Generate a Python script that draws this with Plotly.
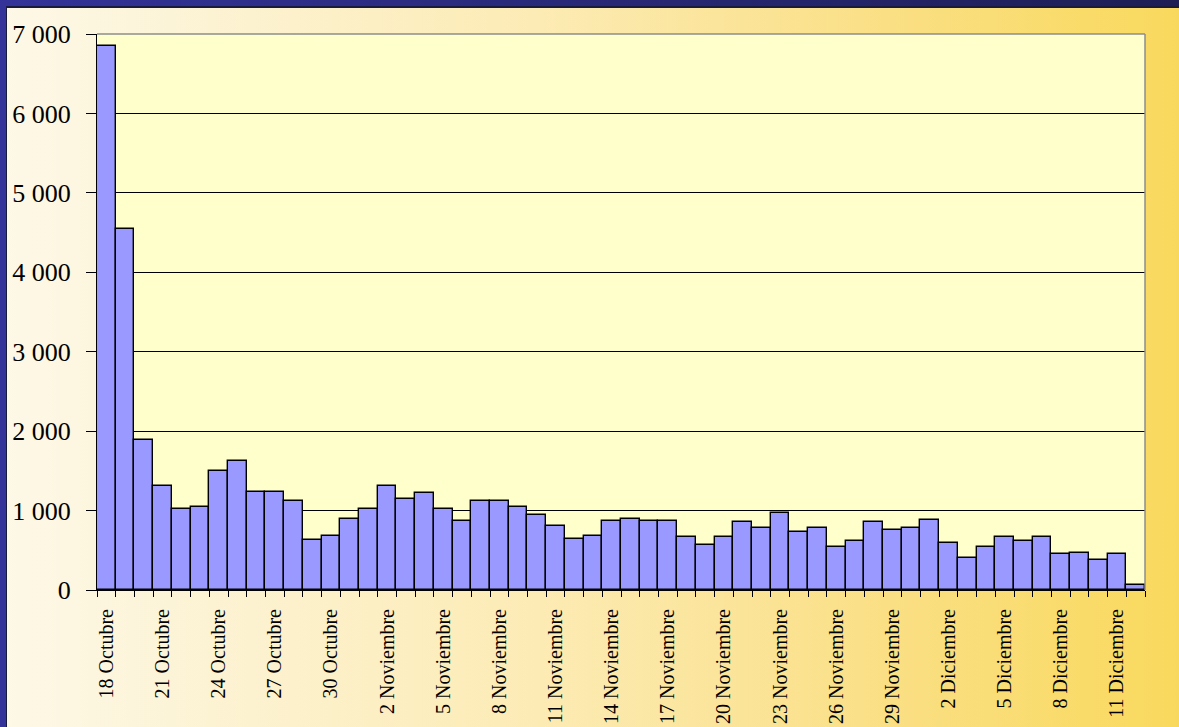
import base64
import plotly.graph_objects as go

# ---- data ----
dates = (
    [f"{d} Octubre" for d in range(18, 32)]
    + [f"{d} Noviembre" for d in range(1, 31)]
    + [f"{d} Diciembre" for d in range(1, 13)]
)
values = [
    6850, 4540, 1890, 1310, 1025, 1045, 1500, 1625, 1240, 1240,
    1120, 635, 685, 900, 1025, 1310, 1145, 1215, 1025, 875,
    1120, 1120, 1045, 950, 805, 640, 685, 875, 900, 875,
    875, 665, 565, 665, 850, 785, 975, 735, 785, 545,
    615, 850, 760, 785, 880, 590, 400, 545, 665, 615,
    665, 450, 470, 375, 450, 60,
]
label_step = 3
y_ticks = [0, 1000, 2000, 3000, 4000, 5000, 6000, 7000]

# ---- layout geometry ----
W, H = 1179, 727
ML, MR, MT, MB = 97, 34, 34, 137
PW, PH = W - ML - MR, H - MT - MB

# ---- background (slide frame + gradient) as svg image ----
svg = f"""<svg xmlns='http://www.w3.org/2000/svg' width='{W}' height='{H}' viewBox='0 0 {W} {H}' preserveAspectRatio='none'>
<defs>
<linearGradient id='g' x1='0' y1='0' x2='1' y2='0'>
<stop offset='0' stop-color='#FDF8E7'/>
<stop offset='0.45' stop-color='#FCEBB4'/>
<stop offset='0.75' stop-color='#FADF84'/>
<stop offset='1' stop-color='#F9D95C'/>
</linearGradient>
<linearGradient id='b' x1='0' y1='0' x2='1' y2='0'>
<stop offset='0' stop-color='#333399'/>
<stop offset='1' stop-color='#1E1E55'/>
</linearGradient>
</defs>
<rect x='0' y='0' width='{W}' height='{H}' fill='#333399'/>
<rect x='0' y='0' width='{W}' height='8' fill='url(#b)'/>
<rect x='6' y='6' width='{W}' height='{H}' fill='#1A1A3A'/>
<rect x='7' y='8' width='{W}' height='{H}' fill='url(#g)'/>
</svg>"""
bg_src = "data:image/svg+xml;base64," + base64.b64encode(svg.encode()).decode()

x_idx = list(range(len(values)))

fig = go.Figure(
    go.Bar(
        x=x_idx,
        y=values,
        width=1,
        marker=dict(color="#9999FF", line=dict(color="#000000", width=1.4)),
        hovertext=dates,
    )
)

font_family = "Liberation Serif, Times New Roman, serif"

fig.update_layout(
    width=W,
    height=H,
    margin=dict(l=ML, r=MR, t=MT, b=MB, autoexpand=False),
    paper_bgcolor="rgba(0,0,0,0)",
    plot_bgcolor="rgba(0,0,0,0)",
    bargap=0,
    showlegend=False,
    separators=". ",
    font=dict(family=font_family, color="black"),
    images=[
        dict(
            source=bg_src,
            xref="paper",
            yref="paper",
            x=-ML / PW,
            y=1 + MT / PH,
            sizex=W / PW,
            sizey=H / PH,
            xanchor="left",
            yanchor="top",
            sizing="stretch",
            layer="below",
        )
    ],
    shapes=[
        dict(
            type="rect", xref="paper", yref="paper", x0=0, x1=1, y0=0, y1=1,
            fillcolor="#FFFFCC", line=dict(width=0), layer="below",
        ),
        dict(
            type="line", xref="paper", yref="paper", x0=0, x1=1, y0=1, y1=1,
            line=dict(color="#8C8C8C", width=1.5), layer="above",
        ),
        dict(
            type="line", xref="paper", yref="paper", x0=1, x1=1, y0=0, y1=1,
            line=dict(color="#8C8C8C", width=1.5), layer="above",
        ),
    ],
)

fig.update_xaxes(
    range=[-0.5, len(values) - 0.5],
    tickmode="array",
    tickvals=x_idx[::label_step],
    ticktext=dates[::label_step],
    tickangle=-90,
    ticks="",
    ticklabelstandoff=10,
    tickfont=dict(size=20, family=font_family, color="black"),
    showline=True,
    linecolor="black",
    linewidth=1,
    showgrid=False,
    zeroline=False,
    automargin=False,
    minor=dict(
        tickmode="linear", tick0=-0.5, dtick=1, ticks="outside",
        ticklen=6, tickcolor="black", tickwidth=1, showgrid=False,
    ),
)

fig.update_yaxes(
    range=[0, 7000],
    tickmode="array",
    tickvals=y_ticks,
    tickformat=",d",
    ticks="outside",
    ticklen=10,
    tickcolor="black",
    tickwidth=1,
    ticklabelstandoff=10,
    tickfont=dict(size=26, family=font_family, color="black"),
    showline=True,
    linecolor="black",
    linewidth=1,
    showgrid=True,
    gridcolor="black",
    gridwidth=1,
    zeroline=False,
    automargin=False,
)

fig.write_html(
    "out.html",
    config={"displayModeBar": False},
    post_script="document.body.style.margin='0px';document.body.style.overflow='hidden';",
)
